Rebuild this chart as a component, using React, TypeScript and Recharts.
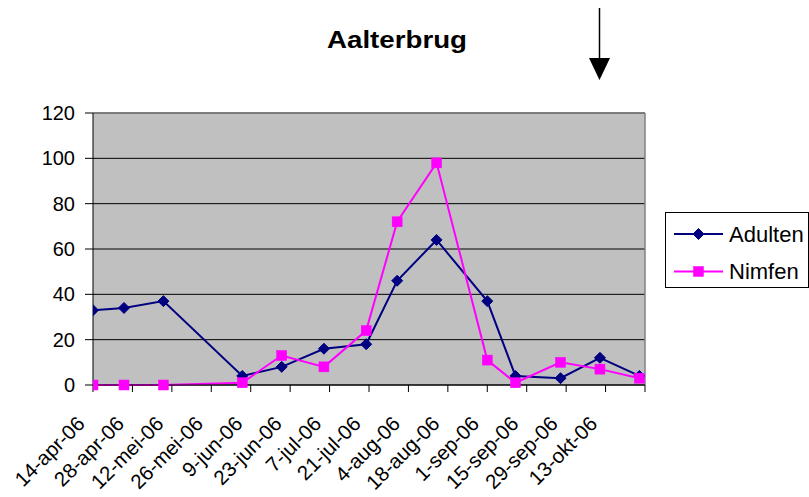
import React from 'react';
import { LineChart, Line, XAxis, YAxis, CartesianGrid, Legend, ReferenceLine } from 'recharts';

const FONT = '"Liberation Sans", Arial, Helvetica, sans-serif';

// sample dates
const sampleDates = [
  '2006-04-14', '2006-04-25', '2006-05-09', '2006-06-06', '2006-06-20', '2006-07-05', '2006-07-20',
  '2006-07-31', '2006-08-14', '2006-09-01', '2006-09-11', '2006-09-27', '2006-10-11', '2006-10-25',
];
const adulten = [33, 34, 37, 4, 8, 16, 18, 46, 64, 37, 4, 3, 12, 4];
const nimfen = [0, 0, 0, 1, 13, 8, 24, 72, 98, 11, 1, 10, 7, 3];

const tickDates = [
  '2006-04-14', '2006-04-28', '2006-05-12', '2006-05-26', '2006-06-09', '2006-06-23', '2006-07-07',
  '2006-07-21', '2006-08-04', '2006-08-18', '2006-09-01', '2006-09-15', '2006-09-29', '2006-10-13',
  '2006-10-27',
];
const tickLabels = [
  '14-apr-06', '28-apr-06', '12-mei-06', '26-mei-06', '9-jun-06', '23-jun-06', '7-jul-06',
  '21-jul-06', '4-aug-06', '18-aug-06', '1-sep-06', '15-sep-06', '29-sep-06', '13-okt-06', '',
];
const yTicks = [0, 20, 40, 60, 80, 100, 120];

const title = 'Aalterbrug';
const seriesNames = ['Adulten', 'Nimfen'];
const seriesColors = ['#000080', '#FF00FF'];

const toTime = (s: string) => Date.parse(s + 'T00:00:00Z');
const tickTimes = tickDates.map(toTime);

const data = sampleDates.map((d, i) => ({ t: toTime(d), adulten: adulten[i], nimfen: nimfen[i] }));

const Diamond = ({ cx, cy, r, color }: any) => (
  <path d={`M${cx},${cy - r}L${cx + r},${cy}L${cx},${cy + r}L${cx - r},${cy}Z`} fill={color} stroke={color} strokeWidth={1} />
);
const Square = ({ cx, cy, r, color }: any) => (
  <rect x={cx - r} y={cy - r} width={2 * r} height={2 * r} fill={color} stroke={color} strokeWidth={0.5} />
);

const renderDiamond = (props: any) => {
  const { cx, cy, index } = props;
  if (cx == null || cy == null) return <g key={`d${index}`} />;
  return <Diamond key={`d${index}`} cx={cx} cy={cy} r={5.5} color={seriesColors[0]} />;
};
const renderSquare = (props: any) => {
  const { cx, cy, index } = props;
  if (cx == null || cy == null) return <g key={`s${index}`} />;
  return <Square key={`s${index}`} cx={cx} cy={cy} r={5} color={seriesColors[1]} />;
};

const XTick = (props: any) => {
  const { x, y, payload } = props;
  const idx = tickTimes.indexOf(payload.value);
  const label = idx >= 0 ? tickLabels[idx] : '';
  if (!label) return <g />;
  const ax = x - 7;
  const ay = y + 33;
  return (
    <text x={ax} y={ay} transform={`rotate(-45 ${ax} ${ay})`} textAnchor="end" fontSize={20.5} fontFamily={FONT} fill="#000">
      {label}
    </text>
  );
};

const LegendContent = () => (
  <svg width={144} height={76} style={{ display: 'block' }}>
    {seriesNames.map((name, i) => {
      const y = i === 0 ? 21 : 58.5;
      return (
        <g key={name}>
          <line x1={8} x2={57} y1={y} y2={y} stroke={seriesColors[i]} strokeWidth={2} />
          {i === 0 ? (
            <Diamond cx={32.5} cy={y} r={5.5} color={seriesColors[i]} />
          ) : (
            <Square cx={32.5} cy={y} r={5} color={seriesColors[i]} />
          )}
          <text x={63} y={y} dy="0.36em" fontSize={22} fontFamily={FONT} fill="#000">
            {name}
          </text>
        </g>
      );
    })}
  </svg>
);

export default function App() {
  return (
    <div style={{ position: 'absolute', left: 0, top: 0, width: 809, height: 497, background: '#fff' }}>
      <LineChart width={809} height={497} data={data} margin={{ top: 113, right: 164, bottom: 12, left: 0 }}>
        <CartesianGrid vertical={false} stroke="#000" strokeWidth={1} fill="#C0C0C0" fillOpacity={1} />
        <XAxis
          dataKey="t"
          type="number"
          scale="linear"
          domain={[tickTimes[0], tickTimes[tickTimes.length - 1]]}
          ticks={tickTimes}
          interval={0}
          tickSize={7}
          tickMargin={0}
          height={100}
          axisLine={{ stroke: '#000', strokeWidth: 1 }}
          tickLine={{ stroke: '#000', strokeWidth: 1 }}
          tick={<XTick />}
          allowDataOverflow
        />
        <YAxis
          type="number"
          domain={[0, 120]}
          ticks={yTicks}
          interval={0}
          width={93}
          tickSize={8}
          tickMargin={10}
          axisLine={{ stroke: '#000', strokeWidth: 1 }}
          tickLine={{ stroke: '#000', strokeWidth: 1 }}
          tick={{ fill: '#000', fontSize: 20, fontFamily: FONT }}
        />
        <ReferenceLine y={120} stroke="#808080" strokeWidth={1.5} />
        <ReferenceLine x={tickTimes[tickTimes.length - 1]} stroke="#808080" strokeWidth={1.5} />
        <Line
          type="linear"
          dataKey="adulten"
          name={seriesNames[0]}
          stroke={seriesColors[0]}
          strokeWidth={2}
          dot={renderDiamond}
          activeDot={false}
          isAnimationActive={false}
        />
        <Line
          type="linear"
          dataKey="nimfen"
          name={seriesNames[1]}
          stroke={seriesColors[1]}
          strokeWidth={2}
          dot={renderSquare}
          activeDot={false}
          isAnimationActive={false}
        />
        <Legend
          layout="vertical"
          align="center"
          verticalAlign="middle"
          content={<LegendContent />}
          wrapperStyle={{
            left: 665,
            top: 212,
            width: 144,
            height: 76,
            border: '1px solid #000',
            boxSizing: 'border-box',
            background: '#fff',
          }}
        />
      </LineChart>
      <svg width={809} height={497} style={{ position: 'absolute', left: 0, top: 0, pointerEvents: 'none' }}>
        <text x={397} y={48} textAnchor="middle" fontSize={24} fontWeight="bold" fontFamily={FONT} fill="#000" textLength={140} lengthAdjust="spacingAndGlyphs">
          {title}
        </text>
        <line x1={599.5} x2={599.5} y1={8} y2={62} stroke="#000" strokeWidth={1.5} />
        <polygon points="589,58 610,58 599.5,80" fill="#000" />
      </svg>
    </div>
  );
}
